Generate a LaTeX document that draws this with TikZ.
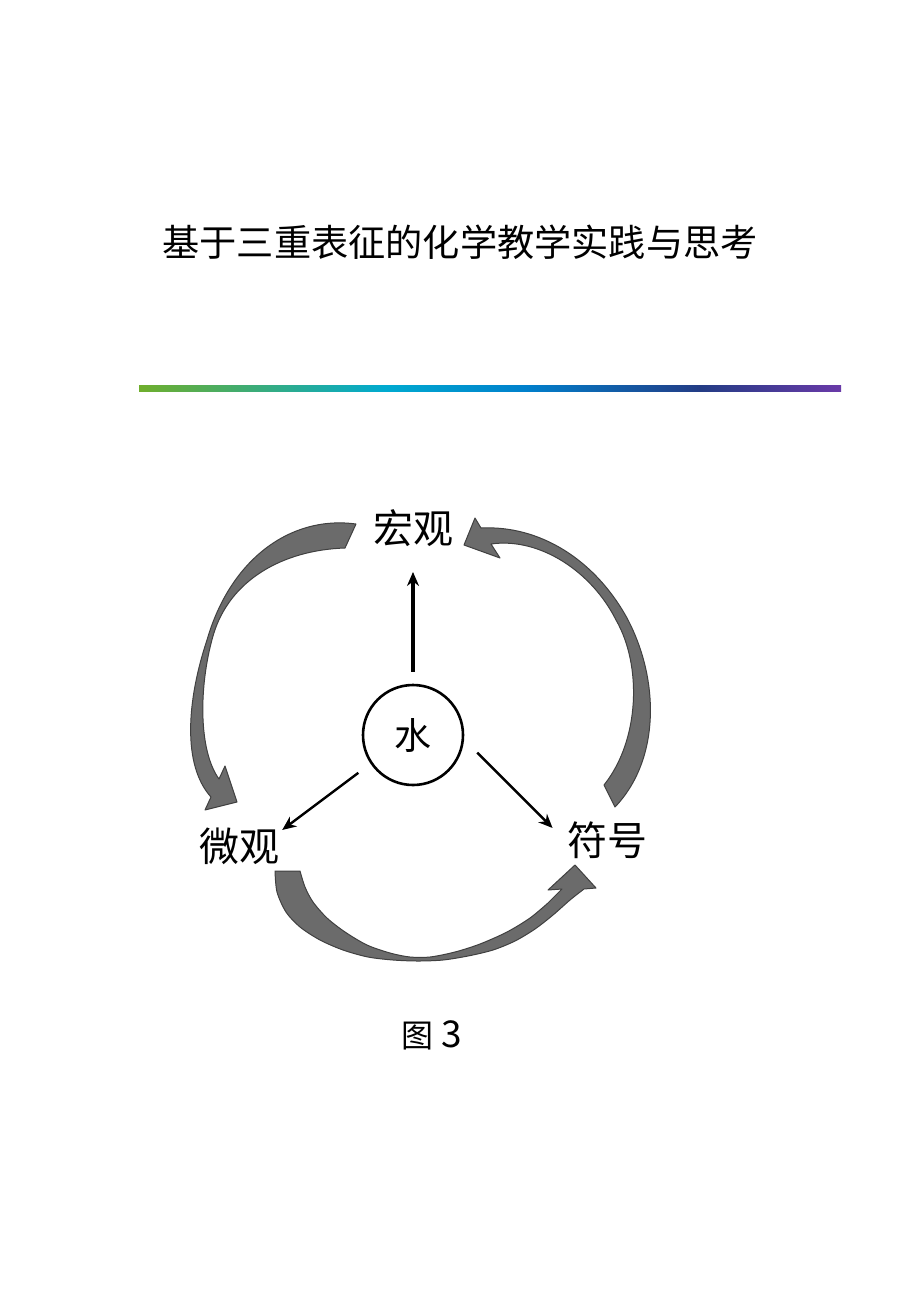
\documentclass[tikz,border=0pt]{standalone}
\usepackage{fontspec}
\newfontfamily\cjk{Noto Sans CJK SC}
\usetikzlibrary{positioning,arrows.meta}
\definecolor{bargreen}{HTML}{6FAE2C}
\definecolor{barcyan}{HTML}{00AAD0}
\definecolor{barblue}{HTML}{0080CC}
\definecolor{barnavy}{HTML}{233C85}
\definecolor{barpurple}{HTML}{6A3AA8}

\begin{document}
\begin{tikzpicture}[
    x=0.5pt,y=-0.5pt,
    node distance=103.5pt,
    title/.style={font=\cjk\fontsize{18.6pt}{18.6pt}\selectfont,inner sep=0pt},
    lbl/.style={font=\cjk\fontsize{20pt}{20pt}\selectfont,inner sep=1pt},
    water/.style={circle,draw,line width=1.3pt,minimum size=50pt,inner sep=0pt,font=\cjk\fontsize{18.5pt}{18.5pt}\selectfont},
    link/.style={-{Stealth[length=7pt,width=6pt]},line width=1.2pt},
    swoosh/.style={fill=black!58,draw=black!75,line width=0.5pt,line join=round}
    ]
    \path[fill=white] (0,0) rectangle (920,1302);
    \useasboundingbox (0,0) rectangle (920,1302);

    \node[title] (head) at (460,242) {基于三重表征的化学教学实践与思考};
    % colour bar under the title
    \foreach \xa/\xb/\ca/\cb in {139/385/bargreen/barcyan, 385/525/barcyan/barblue, 525/700/barblue/barnavy, 700/841/barnavy/barpurple}
        \shade[left color=\ca,right color=\cb] (\xa,385) rectangle (\xb,391);

    \node[water] (water) at (413,735) {水};
    \node[lbl] (macro) [above of=water] {宏观};
    \node[lbl] (micro) at (239,846) {微观};
    \node[lbl] (symbol) at (607,840) {符号};
    \node[font=\cjk\fontsize{16pt}{16pt}\selectfont,inner sep=0pt] (fig) at (432,1035) {图\hspace{4pt}\fontsize{18.5pt}{18.5pt}\selectfont 3};

    \draw[link,line width=1.7pt,shorten <=6pt,shorten >=11.5pt] (water) -- (macro);
    \draw[link,shorten <=7.6pt,shorten >=0.5pt] (water.214) -- (micro.20);
    \draw[link,shorten <=9.3pt,shorten >=8.5pt] (water.-5) -- (symbol.west);

    % macro -> micro
    \filldraw[swoosh] (356,524) .. controls (290,515) and (230,560) .. (207,640)
        .. controls (187,700) and (182,765) .. (211,797)
        -- (205,810) -- (237,802) -- (225,766) -- (219,779)
        .. controls (198,750) and (199,685) .. (213,636)
        .. controls (229,580) and (283,550) .. (345,548) -- cycle;
    % symbol -> macro
    \filldraw[swoosh] (615,807) .. controls (660,760) and (660,680) .. (627,618)
        .. controls (595,560) and (540,525) .. (481,528)
        -- (475,518) -- (464,545) -- (500,558) -- (491,544)
        .. controls (540,537) and (592,572) .. (616,620)
        .. controls (642,665) and (640,740) .. (604,785) -- cycle;
    % micro -> symbol
    \filldraw[swoosh] plot[smooth] coordinates {(275,871) (277,892) (286,912) (300,927) (320,940) (343,950) (368,957) (393,960) (418,961) (443,960) (468,956) (493,950) (515,941) (535,929) (553,915) (570,900) (584,889)}
        -- (596,888) -- (575,865) -- (548,890) -- (562,889)
        -- plot[smooth] coordinates {(548,903) (530,918) (507,932) (480,944) (455,952) (430,957) (410,957) (390,953) (367,945) (345,932) (327,918) (313,902) (305,887) (300,871)} -- cycle;
\end{tikzpicture}
\end{document}
